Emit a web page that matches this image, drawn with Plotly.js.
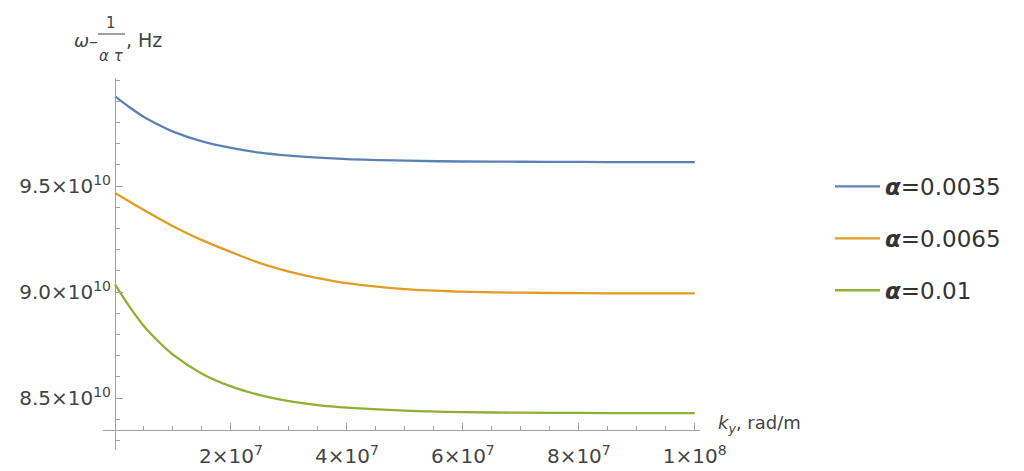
<!DOCTYPE html>
<html>
<head>
<meta charset="utf-8">
<script src="https://cdn.plot.ly/plotly-3.0.1.min.js"></script>
<style>html,body{margin:0;padding:0;background:#fff;}#chart{width:1024px;height:471px;}</style>
</head>
<body>
<div id="chart"></div>
<script>
// k_y values, rad/m
const ky = [0, 2.5e6, 5e6, 7.5e6, 1e7, 1.5e7, 2e7, 2.5e7, 3e7, 3.5e7, 4e7, 5e7, 6e7, 7e7, 8e7, 9e7, 1e8];
// omega - 1/(alpha tau), Hz
const alpha0035 = [9.923e10, 9.872e10, 9.826e10, 9.789e10, 9.757e10, 9.711e10, 9.680e10, 9.658e10, 9.644e10, 9.634e10, 9.627e10, 9.620e10, 9.616e10, 9.615e10, 9.614e10, 9.613e10, 9.613e10];
const alpha0065 = [9.467e10, 9.427e10, 9.387e10, 9.348e10, 9.311e10, 9.245e10, 9.189e10, 9.137e10, 9.097e10, 9.066e10, 9.042e10, 9.014e10, 9.002e10, 8.997e10, 8.995e10, 8.994e10, 8.994e10];
const alpha01   = [9.036e10, 8.931e10, 8.839e10, 8.767e10, 8.705e10, 8.615e10, 8.555e10, 8.514e10, 8.486e10, 8.467e10, 8.455e10, 8.441e10, 8.434e10, 8.431e10, 8.430e10, 8.429e10, 8.429e10];

const seriesNames = ['<b><i>α</i></b>=0.0035', '<b><i>α</i></b>=0.0065', '<b><i>α</i></b>=0.01'];
const seriesColors = ['#5E81B5', '#E19C24', '#8FB032'];

const xTickVals = [2e7, 4e7, 6e7, 8e7, 1e8];
const xTickText = ['2×10<sup>7</sup>', '4×10<sup>7</sup>', '6×10<sup>7</sup>', '8×10<sup>7</sup>', '1×10<sup>8</sup>'];
const yTickVals = [8.5e10, 9.0e10, 9.5e10];
const yTickText = ['8.5×10<sup>10</sup>', '9.0×10<sup>10</sup>', '9.5×10<sup>10</sup>'];

const ys = [alpha0035, alpha0065, alpha01];
const traces = ys.map((y, i) => ({
  x: ky, y: y, type: 'scatter', mode: 'lines',
  name: seriesNames[i], legendgroup: 'g' + i,
  line: {color: seriesColors[i], width: 2.3, shape: 'spline', smoothing: 1}
}));

const font = {family: 'DejaVu Sans, sans-serif', color: '#444'};
const axisGray = '#a0a0a0';
const W = 597, H = 372, L0 = 103, B0 = 450;
const px = v => (v - L0) / W;
const py = v => (B0 - v) / H;

const layout = {
  width: 1024, height: 471,
  margin: {l: 103, r: 324, t: 78, b: 21},
  paper_bgcolor: '#fff', plot_bgcolor: '#fff',
  font: Object.assign({size: 20}, font),
  showlegend: true,
  legend: {x: px(830), y: py(165), xanchor: 'left', yanchor: 'top',
    font: Object.assign({size: 23}, font, {color: '#333'}),
    itemwidth: 45,
    traceorder: 'grouped', tracegroupgap: 19, bgcolor: 'rgba(0,0,0,0)'},
  xaxis: {
    range: [-2.07e6, 1.009e8], anchor: 'free', position: py(430),
    showgrid: false, zeroline: false, showline: true, linecolor: axisGray, linewidth: 1,
    tickmode: 'array', tickvals: xTickVals, ticktext: xTickText,
    ticks: 'inside', ticklen: 7, tickcolor: axisGray, tickwidth: 1,
    ticklabelstandoff: 8,
    tickfont: Object.assign({size: 20}, font),
    minor: {tickmode: 'linear', tick0: 0, dtick: 5e6, ticks: 'inside', ticklen: 4, tickcolor: axisGray, showgrid: false}
  },
  yaxis: {
    range: [8.255e10, 10.01e10], anchor: 'free', position: px(115),
    showgrid: false, zeroline: false, showline: true, linecolor: axisGray, linewidth: 1,
    tickmode: 'array', tickvals: yTickVals, ticktext: yTickText,
    ticks: 'inside', ticklen: 7, tickcolor: axisGray, tickwidth: 1,
    tickfont: Object.assign({size: 20}, font),
    minor: {tickmode: 'linear', tick0: 0, dtick: 1e9, ticks: 'inside', ticklen: 4, tickcolor: axisGray, showgrid: false}
  },
  annotations: [
    {xref: 'paper', yref: 'paper', x: px(98), y: py(40), text: '<i>ω</i>–', showarrow: false,
     xanchor: 'right', yanchor: 'middle', xshift: 2, font: Object.assign({size: 18}, font)},
    {xref: 'paper', yref: 'paper', x: px(111), y: py(23), text: '1', showarrow: false,
     xanchor: 'center', yanchor: 'middle', font: Object.assign({size: 15}, font)},
    {xref: 'paper', yref: 'paper', x: px(111), y: py(56), text: '<i>α τ</i>', showarrow: false,
     xanchor: 'center', yanchor: 'middle', font: Object.assign({size: 15}, font)},
    {xref: 'paper', yref: 'paper', x: px(124), y: py(40), text: ', Hz', showarrow: false,
     xanchor: 'left', yanchor: 'middle', font: Object.assign({size: 19}, font)},
    {xref: 'paper', yref: 'paper', x: px(716), y: py(424), text: '<i>k<sub>y</sub></i>, rad/m', showarrow: false,
     xanchor: 'left', yanchor: 'middle', font: Object.assign({size: 18}, font)}
  ],
  shapes: [
    {type: 'line', xref: 'paper', yref: 'paper', x0: px(98), x1: px(125),
     y0: py(34), y1: py(34), line: {color: '#444', width: 1}}
  ]
};

Plotly.newPlot('chart', traces, layout, {displayModeBar: false, staticPlot: true});
</script>
</body>
</html>
